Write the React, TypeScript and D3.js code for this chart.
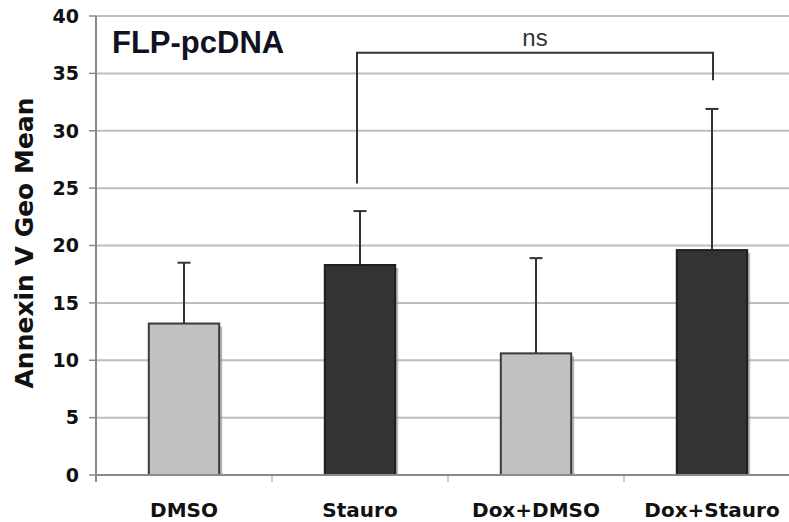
import React from 'react';
import * as d3 from 'd3';

// data
const categories = ['DMSO', 'Stauro', 'Dox+DMSO', 'Dox+Stauro'];
const means = [13.2, 18.3, 10.6, 19.6];
const errors = [5.3, 4.7, 8.3, 12.3];
const shades = ['light', 'dark', 'light', 'dark'];
const yTicks = [0, 5, 10, 15, 20, 25, 30, 35, 40];
// significance bracket: from Stauro to Dox+Stauro
const bracket = { from: 'Stauro', to: 'Dox+Stauro', fromY: 25.4, top: 36.8, toY: 34.4, label: 'ns' };

const W = 789, H = 522;

export default function App() {
  const x = d3.scaleBand().domain(categories).range([96, 800]).padding(0);
  const y = d3.scaleLinear().domain([0, 40]).range([475, 16]);
  const barW = x.bandwidth() * 0.4;
  const cx = (c: string) => (x(c) as number) + x.bandwidth() / 2;

  const bx1 = cx(bracket.from) - 3, bx2 = cx(bracket.to) + 1;
  const bracketPath = d3.path();
  bracketPath.moveTo(bx1, y(bracket.fromY));
  bracketPath.lineTo(bx1, y(bracket.top));
  bracketPath.lineTo(bx2, y(bracket.top));
  bracketPath.lineTo(bx2, y(bracket.toY));

  return (
    <svg width={W} height={H} style={{ position: 'absolute', left: 0, top: 0, background: '#fff' }}>
      {/* gridlines */}
      {yTicks.filter(t => t > 0).map(t => (
        <line key={'g' + t} x1={96} x2={800} y1={y(t)} y2={y(t)} stroke="#bdbdbd" strokeWidth={2} />
      ))}
      {/* y ticks */}
      {yTicks.map(t => (
        <g key={'t' + t}>
          <line x1={89} x2={96} y1={y(t)} y2={y(t)} stroke="#888" strokeWidth={1.5} />
          <text x={79} y={y(t)} dy="0.36em" textAnchor="end"
            style={{ font: 'bold 19px "DejaVu Sans", sans-serif', fill: '#111' }}>{t}</text>
        </g>
      ))}
      {/* x tick marks at band edges */}
      {categories.map(c => (
        <line key={'xt' + c} x1={x(c) as number} x2={x(c) as number} y1={475} y2={482} stroke="#999" strokeWidth={1} />
      ))}

      {/* bars */}
      {categories.map((c, i) => {
        const x0 = cx(c) - barW / 2;
        const top = y(means[i]);
        const dark = shades[i] === 'dark';
        return (
          <g key={'b' + c}>
            <rect x={x0 + 3} y={top + 3} width={barW} height={y(0) - top - 3} fill="#9a9a9a" opacity={0.7} />
            <rect x={x0} y={top} width={barW} height={y(0) - top}
              fill={dark ? '#333333' : '#c0c0c0'} stroke={dark ? '#1e1e1e' : '#3a3a3a'} strokeWidth={2} />
          </g>
        );
      })}

      {/* axes */}
      <line x1={96} x2={800} y1={y(0)} y2={y(0)} stroke="#8a8a8a" strokeWidth={2} />
      <line x1={96} x2={96} y1={y(40)} y2={482} stroke="#8a8a8a" strokeWidth={2} />

      {/* error bars */}
      {categories.map((c, i) => {
        const top = y(means[i] + errors[i]);
        return (
          <g key={'e' + c} stroke="#333" strokeWidth={2}>
            <line x1={cx(c)} x2={cx(c)} y1={y(means[i])} y2={top} />
            <line x1={cx(c) - 6.5} x2={cx(c) + 6.5} y1={top} y2={top} />
          </g>
        );
      })}

      {/* significance bracket */}
      <path d={bracketPath.toString()} fill="none" stroke="#333" strokeWidth={2} />
      <text x={(bx1 + bx2) / 2} y={46} textAnchor="middle"
        style={{ font: '24px "Liberation Sans Narrow", "Liberation Sans", Arial, sans-serif', fill: '#333' }}>{bracket.label}</text>

      {/* title */}
      <text x={112} y={53} style={{ font: 'bold 31px "Liberation Sans", Arial, sans-serif', fill: '#111122' }}>FLP-pcDNA</text>

      {/* x labels */}
      {categories.map(c => (
        <text key={'l' + c} x={cx(c)} y={517} textAnchor="middle"
          style={{ font: 'bold 20px "DejaVu Sans", sans-serif', fill: '#111' }}>{c}</text>
      ))}

      {/* y title */}
      <text transform="translate(33,243) rotate(-90)" textAnchor="middle"
        style={{ font: 'bold 25px "DejaVu Sans", sans-serif', fill: '#111' }}>Annexin V Geo Mean</text>
    </svg>
  );
}
